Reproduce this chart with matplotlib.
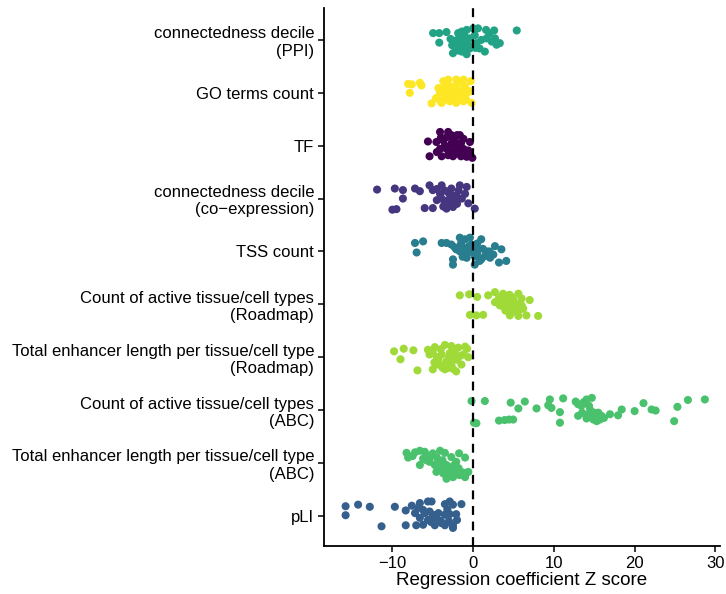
import matplotlib
matplotlib.use("Agg")
import matplotlib.pyplot as plt

plt.rcParams["font.family"] = ["Liberation Sans", "DejaVu Sans"]

categories = [
    "connectedness decile\n(PPI)",
    "GO terms count",
    "TF",
    "connectedness decile\n(co\u2212expression)",
    "TSS count",
    "Count of active tissue/cell types\n(Roadmap)",
    "Total enhancer length per tissue/cell type\n(Roadmap)",
    "Count of active tissue/cell types\n(ABC)",
    "Total enhancer length per tissue/cell type\n(ABC)",
    "pLI",
]

colors = ["#22A385", "#FDE725", "#440154", "#46367F", "#287D8E",
          "#A0DA39", "#A0DA39", "#4AC16D", "#4AC16D", "#355F8D"]

# Each point: (Z score, vertical jitter within its row)
ppi = [(-4.96, -0.13), (-4.2, -0.13), (-3.3, -0.15), (-4.2, 0.05), (-2.8, -0.02),
       (-1.86, -0.13), (-1.4, -0.16), (-0.8, -0.19), (0.0, -0.22), (0.6, -0.22),
       (1.6, -0.19), (2.6, -0.18), (5.4, -0.18), (-2.3, 0.06), (-1.65, 0.09),
       (-2.5, 0.25), (-1.4, 0.22), (-0.8, 0.27), (-0.4, 0.16), (0.4, 0.06),
       (0.8, 0.16), (1.45, 0.22), (1.66, -0.03), (2.3, 0.03), (2.9, 0.09),
       (3.3, 0.06), (2.7, -0.03), (-1.0, -0.06), (-0.4, -0.03), (-1.2, 0.03),
       (-0.6, 0.09), (-2.1, 0.16), (0.2, -0.09),
       (-2.0, 0.0), (-1.5, -0.05), (-0.8, 0.05), (-1.0, 0.14), (-2.6, 0.1),
       (1.0, 0.0), (2.0, -0.12), (-1.8, 0.2), (0.3, 0.15)]
go = [(-8.05, -0.17), (-7.6, -0.16), (-6.6, -0.19), (-6.4, -0.14), (-7.85, 0.0),
      (-5.15, 0.2), (-3.9, 0.19), (-4.3, -0.09), (-3.7, -0.22), (-3.1, -0.25),
      (-2.1, -0.25), (-1.2, -0.25), (-0.3, -0.22), (-4.1, 0.0), (-3.3, 0.03),
      (-2.7, -0.03), (-1.65, -0.03), (-0.8, 0.0), (-0.4, -0.03), (-3.7, 0.13),
      (-2.9, 0.16), (-2.1, 0.19), (-1.2, 0.16), (-0.2, 0.19), (-2.9, -0.13),
      (-2.1, -0.13), (-2.3, 0.06), (-3.3, -0.09),
      (-4.0, -0.05), (-3.5, -0.15), (-3.0, 0.05), (-2.5, -0.08), (-2.0, 0.0),
      (-1.5, 0.08), (-1.0, -0.12), (-3.5, 0.12), (-2.5, 0.12), (-1.8, -0.18),
      (-0.9, 0.12), (-4.6, 0.1), (-4.0, 0.17)]
tf = [(-5.6, -0.08), (-5.4, 0.2), (-4.1, -0.26), (-3.1, -0.26), (-2.7, -0.2),
      (-1.65, -0.2), (-1.2, -0.13), (-4.55, -0.07), (-3.7, -0.1), (-2.7, -0.04),
      (-1.85, -0.04), (-0.4, -0.07), (-4.1, 0.06), (-3.3, 0.06), (-2.3, 0.06),
      (-1.2, 0.06), (-0.6, 0.09), (-3.9, 0.2), (-3.1, 0.18), (-2.1, 0.15),
      (-0.8, 0.21), (-0.1, 0.23), (-3.3, -0.16), (-2.3, -0.13), (-2.9, 0.12),
      (-1.65, 0.12),
      (-4.0, -0.15), (-3.5, 0.0), (-2.5, -0.1), (-2.0, 0.0), (-1.5, -0.05),
      (-1.0, 0.12), (-3.0, 0.1), (-2.5, 0.2), (-1.5, 0.2), (-0.5, 0.17),
      (-2.0, -0.2), (-4.5, 0.12)]
coexp = [(-11.9, -0.17), (-9.7, -0.19), (-8.7, -0.16), (-8.7, 0.0), (-9.5, 0.2),
         (-7.2, -0.19), (-6.6, -0.14), (-5.4, -0.25), (-5.0, -0.16), (-3.9, -0.25),
         (-2.7, -0.19), (-1.65, -0.25), (-0.8, -0.22), (-6.0, 0.18), (-5.0, 0.18),
         (-3.9, 0.0), (-3.1, 0.03), (-2.5, 0.16), (-1.4, 0.0), (-1.0, -0.09),
         (0.2, 0.19), (-3.3, 0.19), (-2.1, -0.06), (-2.7, -0.06), (-4.1, -0.09),
         (-3.5, 0.09), (-0.6, 0.09), (-4.5, 0.03), (-10.0, 0.21),
         (-3.5, -0.15), (-3.0, -0.1), (-2.3, 0.05), (-3.7, 0.15), (-2.8, 0.1),
         (-1.8, -0.15), (-4.5, -0.18), (-2.0, 0.1)]
tss = [(-7.2, -0.16), (-6.2, -0.19), (-7.0, 0.02), (-3.9, -0.16), (-3.3, -0.16),
       (-2.7, -0.13), (-1.65, -0.26), (-1.0, -0.23), (-0.4, -0.26), (1.0, -0.23),
       (-2.5, 0.15), (-2.5, 0.25), (-1.65, 0.0), (-0.8, 0.12), (0.2, 0.25),
       (0.8, 0.18), (0.6, -0.04), (1.66, 0.0), (2.7, -0.1), (3.5, -0.04),
       (4.1, 0.18), (3.2, 0.21), (2.1, 0.12), (1.45, 0.09), (-1.2, -0.07),
       (-0.6, 0.02), (-2.1, -0.04), (-0.2, -0.13), (2.5, 0.06), (0.2, 0.09),
       (-1.5, -0.15), (-0.5, -0.1), (0.5, 0.05), (1.2, -0.05), (-1.0, 0.05),
       (0.0, -0.02), (2.0, 0.0), (1.0, 0.15), (-1.3, 0.1), (-2.3, -0.08),
       (0.5, -0.15)]
roadmap_count = [(-1.65, -0.17), (-0.5, -0.19), (0.5, -0.14), (-0.4, 0.2), (0.4, 0.21),
                 (1.24, 0.2), (1.86, -0.17), (2.7, -0.23), (3.7, -0.2), (4.75, -0.14),
                 (5.6, -0.2), (7.0, -0.08), (8.05, 0.22), (2.7, -0.04), (3.7, -0.04),
                 (4.75, -0.01), (5.8, -0.01), (4.3, 0.11), (5.4, 0.14), (4.55, 0.21),
                 (5.6, 0.22), (6.6, 0.21), (6.2, 0.08), (3.3, 0.02), (5.15, 0.05),
                 (4.1, -0.11), (6.0, -0.11),
                 (3.8, 0.05), (4.5, 0.05), (5.0, -0.08), (5.3, 0.0), (4.0, 0.12),
                 (4.8, 0.14), (5.8, 0.1), (3.2, -0.12), (4.5, -0.18), (6.0, 0.02),
                 (4.2, -0.05)]
roadmap_length = [(-9.8, -0.11), (-8.6, -0.16), (-7.4, -0.13), (-9.0, 0.04), (-6.9, 0.25),
                  (-5.6, -0.14), (-4.75, -0.19), (-3.5, -0.23), (-2.7, -0.21),
                  (-1.85, -0.18), (-0.75, -0.16), (-0.6, 0.0), (-5.0, 0.23),
                  (-3.5, 0.23), (-2.1, 0.27), (-1.45, 0.14), (-4.3, 0.04), (-3.3, 0.08),
                  (-2.5, 0.01), (-3.9, -0.05), (-2.9, -0.08), (-1.65, -0.02),
                  (-5.4, -0.05), (-4.3, 0.14), (-2.7, 0.14), (-3.5, 0.14),
                  (-5.0, -0.1), (-4.5, 0.0), (-4.0, -0.15), (-3.0, 0.0), (-2.3, -0.1),
                  (-2.0, 0.05), (-1.2, -0.05), (-3.8, 0.2), (-3.0, 0.2), (-2.5, 0.22),
                  (-4.8, 0.1), (-1.0, -0.2)]
abc_count = [(-0.2, -0.17), (1.45, -0.17), (0.1, 0.24), (0.4, 0.25), (3.2, 0.2),
             (3.9, 0.19), (4.45, 0.18), (4.95, 0.18), (4.65, -0.14), (5.6, -0.03),
             (6.4, -0.16), (7.85, -0.03), (9.5, -0.2), (9.3, -0.09), (9.7, -0.04),
             (11.15, -0.22), (10.75, 0.04), (10.75, 0.24), (12.7, -0.16), (13.0, -0.11),
             (13.4, -0.08), (14.05, -0.2), (14.7, -0.23), (13.0, 0.11), (14.05, 0.16),
             (14.7, 0.14), (15.3, 0.21), (15.5, 0.05), (15.9, 0.11), (16.95, 0.08),
             (17.95, 0.1), (18.4, -0.01), (20.0, 0.02), (21.1, -0.13), (22.1, -0.01),
             (22.6, 0.01), (24.9, 0.21), (25.3, -0.06), (26.6, -0.19), (28.7, -0.2),
             (14.35, -0.08), (15.7, 0.18), (14.9, 0.18),
             (14.0, 0.1), (15.0, 0.05), (14.5, 0.0), (13.5, 0.05), (15.5, 0.15),
             (13.7, -0.15), (16.2, 0.15)]
abc_length = [(-8.25, -0.19), (-8.05, -0.1), (-7.2, -0.2), (-6.6, -0.23), (-6.0, -0.21),
              (-6.6, 0.04), (-6.2, -0.08), (-5.0, -0.18), (-4.1, -0.23), (-3.5, -0.19),
              (-2.7, -0.11), (-1.74, -0.18), (-1.0, -0.1), (-2.1, -0.02), (-5.4, -0.02),
              (-4.75, 0.04), (-4.1, 0.01), (-3.3, 0.04), (-4.55, 0.17), (-3.7, 0.2),
              (-2.9, 0.23), (-2.1, 0.14), (-1.65, 0.23), (-1.0, 0.27), (-0.6, 0.17),
              (-5.4, -0.11), (-2.7, 0.14), (-3.3, 0.3), (-2.5, 0.27),
              (-7.5, -0.13), (-5.8, -0.05), (-4.5, -0.1), (-3.8, -0.05), (-3.0, 0.08),
              (-2.4, 0.05), (-1.8, 0.1), (-1.3, 0.18), (-4.0, 0.12), (-3.5, 0.12),
              (-2.0, 0.22), (-0.9, 0.2), (-5.8, -0.15)]
pli = [(-15.8, -0.18), (-15.8, -0.01), (-14.25, -0.21), (-12.8, -0.17), (-11.35, 0.2),
       (-9.7, -0.17), (-8.35, -0.1), (-8.35, 0.18), (-7.6, -0.19), (-6.6, -0.24),
       (-5.6, -0.27), (-5.15, -0.27), (-3.5, -0.22), (-2.9, -0.27), (-2.5, -0.21),
       (-1.45, -0.22), (-7.2, -0.05), (-6.2, -0.11), (-5.4, -0.08), (-5.0, -0.02),
       (-4.3, -0.05), (-3.5, -0.02), (-2.9, -0.03), (-2.1, -0.03), (-6.6, 0.04),
       (-5.6, 0.08), (-4.55, 0.04), (-3.9, 0.14), (-7.05, 0.18), (-6.2, 0.17),
       (-4.75, 0.18), (-3.5, 0.18), (-2.5, 0.18), (-2.5, 0.23),
       (-6.0, -0.05), (-4.0, 0.1), (-3.0, 0.1), (-5.2, 0.12), (-3.2, -0.12),
       (-2.0, 0.08), (-6.8, -0.15)]

series = [ppi, go, tf, coexp, tss, roadmap_count, roadmap_length,
          abc_count, abc_length, pli]

xticks = [-10, 0, 10, 20, 30]
xlabel = "Regression coefficient Z score"

fig = plt.figure(figsize=(7.26, 5.94), dpi=100)
ax = fig.add_axes([0.446, 0.081, 0.546, 0.906])

for i, (pts, col) in enumerate(zip(series, colors)):
    xs = [p[0] for p in pts]
    ys = [i + p[1] for p in pts]
    ax.scatter(xs, ys, s=34, color=col, edgecolors="none", zorder=2)

ax.axvline(0, color="black", linestyle=(0, (4, 3)), linewidth=1.6, zorder=3)

ax.set_xlim(-18.5, 30.6)
ax.set_ylim(len(categories) - 1 + 0.57, -0.61)
ax.set_yticks(range(len(categories)))
ax.set_yticklabels(categories, fontsize=12, color="black", linespacing=1.2)
ax.set_xticks(xticks)
ax.set_xticklabels([f"{t}".replace("-", "\u2212") for t in xticks], fontsize=12)
ax.set_xlabel(xlabel, fontsize=13.5, labelpad=1)

for side in ("top", "right"):
    ax.spines[side].set_visible(False)
for side in ("left", "bottom"):
    ax.spines[side].set_linewidth(1.3)
ax.tick_params(axis="both", direction="out", length=4, width=1.1, colors="black",
               labelcolor="black", pad=3)

fig.savefig("out.png", dpi=100)
